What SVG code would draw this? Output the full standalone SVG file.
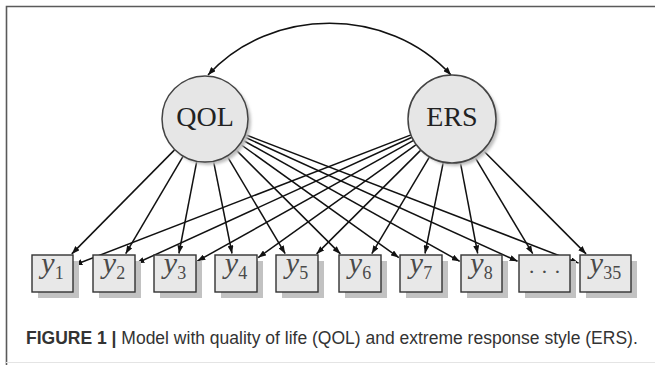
<svg xmlns="http://www.w3.org/2000/svg" width="655" height="365" viewBox="0 0 655 365">
<defs>
<style>
.frame{stroke:#5a5a5a;stroke-width:1.6;fill:none}
.lat{fill:#e6e6e6;stroke:#444;stroke-width:1.5}
.latsh{fill:#bdbdbd}
.latlab{font-family:"Liberation Serif",serif;font-size:28px;fill:#222;text-anchor:middle}
.box{fill:#e8e8e8;stroke:#333;stroke-width:1.4}
.boxsh{fill:#c2c2c2}
.lab{font-family:"Liberation Serif",serif;font-style:italic;font-size:30px;fill:#4a4a4a;text-anchor:middle}
.sub{font-style:normal;font-size:18px}
.dots{font-family:"Liberation Serif",serif;font-size:22px;fill:#4a4a4a;text-anchor:middle}
.edge{stroke:#111;stroke-width:1.5;fill:none;marker-end:url(#ah)}
.cap{font-family:"Liberation Sans",Arial,sans-serif;font-size:17.5px;fill:#333}
</style>
<marker id="ah" viewBox="0 0 8 6" refX="8" refY="3" markerWidth="8" markerHeight="6" markerUnits="userSpaceOnUse" orient="auto-start-reverse">
<path d="M0,0 L8,3 L0,6 z" fill="#111"/>
</marker>
<filter id="blur" x="-20%" y="-20%" width="140%" height="140%"><feGaussianBlur stdDeviation="1.5"/></filter>
</defs>
<rect width="655" height="365" fill="#fff"/>
<path class="frame" d="M6.5,365 V6.5 H655"/>
<path d="M6,362.5 H655" stroke="#e4e4e4" stroke-width="1" fill="none"/>

<g id="connectors">
<path class="edge" marker-start="url(#ah)" d="M208,75 C271,6 388,6 451,75"/>
<path class="edge" d="M174.8,149.6 L71.8,253.9"/>
<path class="edge" d="M183.2,156.1 L125.7,253.7"/>
<path class="edge" d="M196.8,161.2 L178.9,253.5"/>
<path class="edge" d="M213.5,161.2 L232.0,253.5"/>
<path class="edge" d="M227.0,155.9 L285.2,253.7"/>
<path class="edge" d="M235.5,149.4 L340.4,253.9"/>
<path class="edge" d="M240.0,144.0 L398.8,257.6"/>
<path class="edge" d="M242.5,140.0 L459.7,261.3"/>
<path class="edge" d="M244.1,136.8 L517.6,261.3"/>
<path class="edge" d="M245.1,134.5 L578.6,263.1"/>
<path class="edge" d="M411.0,134.9 L74.4,265.0"/>
<path class="edge" d="M412.0,137.3 L136.4,263.3"/>
<path class="edge" d="M413.6,140.4 L197.3,261.1"/>
<path class="edge" d="M416.2,144.6 L258.2,257.6"/>
<path class="edge" d="M420.8,150.1 L316.6,253.9"/>
<path class="edge" d="M429.5,156.8 L371.8,253.7"/>
<path class="edge" d="M443.3,162.1 L425.0,253.5"/>
<path class="edge" d="M460.3,162.2 L477.7,253.5"/>
<path class="edge" d="M474.6,156.7 L532.7,253.7"/>
<path class="edge" d="M483.0,150.2 L586.1,253.9"/>
</g>

<g id="QOL">
<circle class="latsh" cx="208" cy="122" r="43" filter="url(#blur)"/>
<circle class="lat" cx="205" cy="119" r="43"/>
<text class="latlab" x="205" y="126">QOL</text>
</g>
<g id="ERS">
<circle class="latsh" cx="455" cy="122" r="44" filter="url(#blur)"/>
<circle class="lat" cx="452" cy="119" r="44"/>
<text class="latlab" x="452" y="126">ERS</text>
</g>

<g id="y1"><rect class="boxsh" x="38" y="261" width="41" height="37"/><rect class="box" x="32" y="255" width="41" height="37"/><text class="lab" x="52.5" y="273">y<tspan class="sub" dy="5.5">1</tspan></text></g>
<g id="y2"><rect class="boxsh" x="99" y="261" width="42" height="37"/><rect class="box" x="93" y="255" width="42" height="37"/><text class="lab" x="114" y="273">y<tspan class="sub" dy="5.5">2</tspan></text></g>
<g id="y3"><rect class="boxsh" x="160" y="261" width="42" height="37"/><rect class="box" x="154" y="255" width="42" height="37"/><text class="lab" x="175" y="273">y<tspan class="sub" dy="5.5">3</tspan></text></g>
<g id="y4"><rect class="boxsh" x="221" y="261" width="42" height="37"/><rect class="box" x="215" y="255" width="42" height="37"/><text class="lab" x="236" y="273">y<tspan class="sub" dy="5.5">4</tspan></text></g>
<g id="y5"><rect class="boxsh" x="282" y="261" width="42" height="37"/><rect class="box" x="276" y="255" width="42" height="37"/><text class="lab" x="297" y="273">y<tspan class="sub" dy="5.5">5</tspan></text></g>
<g id="y6"><rect class="boxsh" x="345" y="261" width="42" height="37"/><rect class="box" x="339" y="255" width="42" height="37"/><text class="lab" x="360" y="273">y<tspan class="sub" dy="5.5">6</tspan></text></g>
<g id="y7"><rect class="boxsh" x="406" y="261" width="42" height="37"/><rect class="box" x="400" y="255" width="42" height="37"/><text class="lab" x="421" y="273">y<tspan class="sub" dy="5.5">7</tspan></text></g>
<g id="y8"><rect class="boxsh" x="467" y="261" width="41" height="37"/><rect class="box" x="461" y="255" width="41" height="37"/><text class="lab" x="481.5" y="273">y<tspan class="sub" dy="5.5">8</tspan></text></g>
<g id="ydots"><rect class="boxsh" x="525" y="261" width="51" height="37"/><rect class="box" x="519" y="255" width="51" height="37"/><text class="dots" x="544.5" y="279">· · ·</text></g>
<g id="y35"><rect class="boxsh" x="586" y="261" width="51" height="37"/><rect class="box" x="580" y="255" width="51" height="37"/><text class="lab" x="605.5" y="273">y<tspan class="sub" dy="5.5">35</tspan></text></g>

<text class="cap" x="26" y="344"><tspan font-weight="bold">FIGURE 1 | </tspan>Model with quality of life (QOL) and extreme response style (ERS).</text>
</svg>
